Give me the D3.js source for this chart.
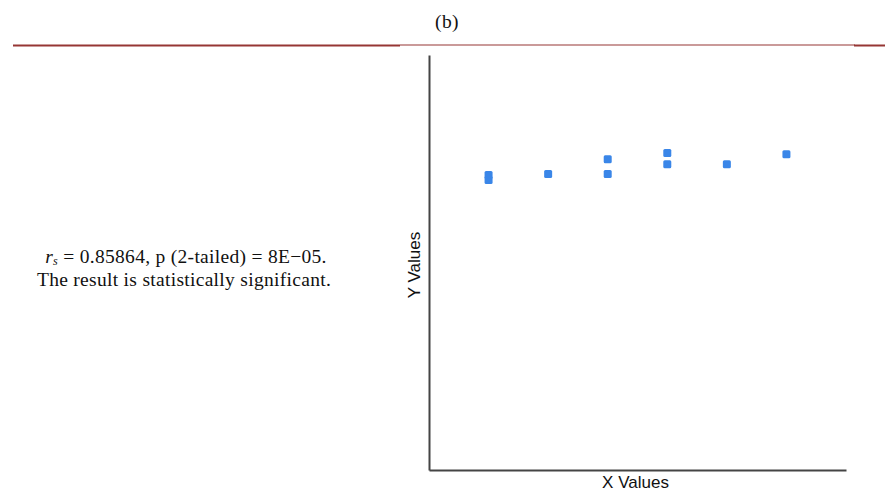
<!DOCTYPE html>
<html>
<head>
<meta charset="utf-8">
<script src="https://cdn.jsdelivr.net/npm/d3@7"></script>
<style>
  body { margin: 0; background: #fff; }
  svg { display: block; }
</style>
</head>
<body>
<svg width="885" height="491"></svg>
<script>
// Scatter values (y has no ticks, so 0-100 scale)
var xValues = [1, 1, 2, 3, 3, 4, 4, 5, 6];
var yValues = [71.1, 69.9, 71.3, 71.3, 74.9, 76.4, 73.7, 73.7, 76.1];
var panelLabel = "(b)";
var statLine1 = ["r", "s", " = 0.85864, p (2-tailed) = 8E\u221205."];
var statLine2 = "The result is statistically significant.";

var svg = d3.select("svg"),
    margin = {top: 55, right: 39, bottom: 21, left: 429},
    width = +svg.attr("width") - margin.left - margin.right,
    height = +svg.attr("height") - margin.top - margin.bottom,
    g = svg.append("g").attr("transform", "translate(" + margin.left + "," + margin.top + ")"),
    x = d3.scaleLinear().domain([0, 7]).range([0, width]),
    y = d3.scaleLinear().domain([0, 100]).range([height, 0]);

var serif = "'Liberation Serif', 'DejaVu Serif', serif",
    sans = "'Liberation Sans', Arial, sans-serif",
    red = "#963634";

// Header rule: thick at the ends, thin in the middle
svg.append("rect").attr("x", 13).attr("y", 44.5).attr("width", 387).attr("height", 2).attr("fill", red);
svg.append("rect").attr("x", 400).attr("y", 44.5).attr("width", 455).attr("height", 1).attr("fill", red);
svg.append("rect").attr("x", 854).attr("y", 44.5).attr("width", 31).attr("height", 2).attr("fill", red);

svg.append("text")
  .attr("x", 447)
  .attr("y", 28)
  .attr("text-anchor", "middle")
  .style("font-family", serif)
  .style("font-size", "19.5px")
  .style("letter-spacing", "0.4px")
  .attr("fill", "#111")
  .text(panelLabel);

// Statistics text on the left
var t1 = svg.append("text")
  .attr("x", 186)
  .attr("y", 263)
  .attr("text-anchor", "middle")
  .style("font-family", serif)
  .style("font-size", "19.5px")
  .style("letter-spacing", "0.3px")
  .attr("fill", "#111");
t1.append("tspan").style("font-style", "italic").text(statLine1[0]);
t1.append("tspan").style("font-style", "italic").style("font-size", "12px").attr("dy", 2).text(statLine1[1]);
t1.append("tspan").attr("dy", -2).text(statLine1[2]);

svg.append("text")
  .attr("x", 184)
  .attr("y", 286)
  .attr("text-anchor", "middle")
  .style("font-family", serif)
  .style("font-size", "19.5px")
  .style("letter-spacing", "0.3px")
  .attr("fill", "#111")
  .text(statLine2);

// Axes without ticks
var axisColor = "#444";
g.append("g")
  .attr("transform", "translate(0," + height + ")")
  .call(d3.axisBottom(x).tickValues([]).tickSizeOuter(0))
  .select(".domain").attr("stroke", axisColor).attr("stroke-width", 2);
g.append("g")
  .call(d3.axisLeft(y).tickValues([]).tickSizeOuter(0))
  .select(".domain").attr("stroke", axisColor).attr("stroke-width", 2);

g.append("text")
  .attr("x", width / 2 - 2)
  .attr("y", height + 18)
  .attr("text-anchor", "middle")
  .style("font-family", sans)
  .style("font-size", "17px")
  .attr("fill", "#111")
  .text("X Values");

g.append("text")
  .attr("transform", "rotate(-90)")
  .attr("x", -(265 - margin.top))
  .attr("y", -9)
  .attr("text-anchor", "middle")
  .style("font-family", sans)
  .style("font-size", "17px")
  .attr("fill", "#111")
  .text("Y Values");

// Square markers
var s = 8;
g.selectAll(".pt")
  .data(xValues)
  .enter()
  .append("rect")
  .attr("class", "pt")
  .attr("x", function(d) { return x(d) - s / 2; })
  .attr("y", function(d, i) { return y(yValues[i]) - s / 2; })
  .attr("width", s)
  .attr("height", s)
  .attr("rx", 1.5)
  .attr("fill", "#3a86e8");
</script>
</body>
</html>
